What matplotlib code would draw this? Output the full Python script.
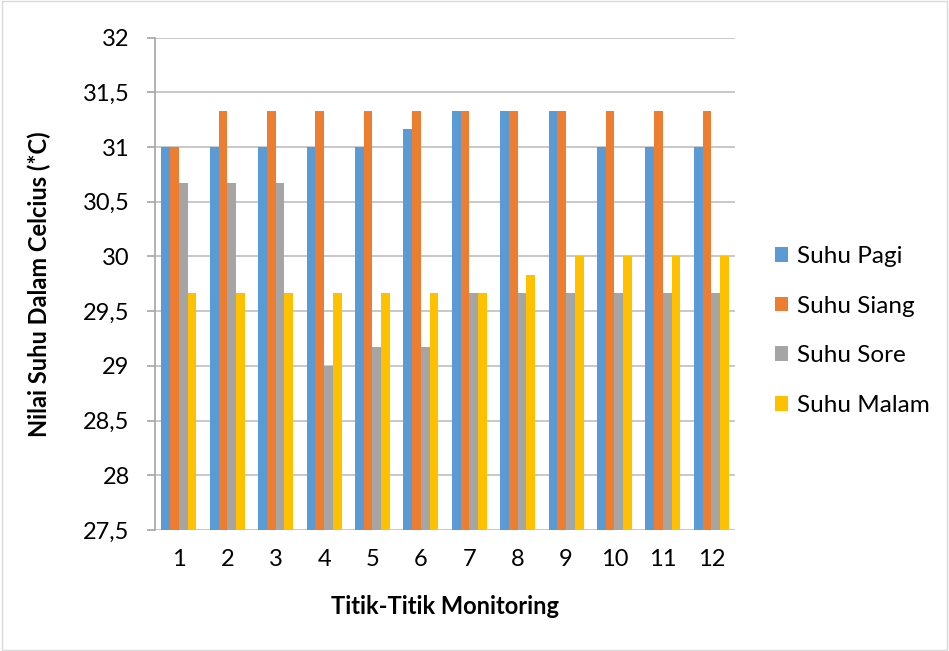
import matplotlib
matplotlib.use("Agg")
import matplotlib.pyplot as plt
import numpy as np
from matplotlib.patches import Rectangle

categories = ["1", "2", "3", "4", "5", "6", "7", "8", "9", "10", "11", "12"]
suhu_pagi = [31, 31, 31, 31, 31, 31.17, 31.33, 31.33, 31.33, 31, 31, 31]
suhu_siang = [31, 31.33, 31.33, 31.33, 31.33, 31.33, 31.33, 31.33, 31.33, 31.33, 31.33, 31.33]
suhu_sore = [30.67, 30.67, 30.67, 29, 29.17, 29.17, 29.67, 29.67, 29.67, 29.67, 29.67, 29.67]
suhu_malam = [29.67, 29.67, 29.67, 29.67, 29.67, 29.67, 29.67, 29.83, 30, 30, 30, 30]
series_names = ["Suhu Pagi", "Suhu Siang", "Suhu Sore", "Suhu Malam"]
yticks = [27.5, 28, 28.5, 29, 29.5, 30, 30.5, 31, 31.5, 32]

colors = ["#5B9BD5", "#ED7D31", "#A5A5A5", "#FFC000"]
plt.rcParams['font.family'] = ['Lato', 'DejaVu Sans']

fig = plt.figure(figsize=(9.49, 6.51), dpi=100)
ax = fig.add_axes([0.163, 0.186, 0.612, 0.756])

x = np.arange(len(categories))
w = 0.18
data = [suhu_pagi, suhu_siang, suhu_sore, suhu_malam]
base = 27.5
for i, (vals, name, c) in enumerate(zip(data, series_names, colors)):
    ax.bar(x + (i - 1.5) * w, np.array(vals) - base, bottom=base, width=w,
           color=c, label=name, zorder=3)

ax.set_xlim(-0.5, len(categories) - 0.5)
ax.set_ylim(27.5, 32)
ax.set_yticks(yticks)
ax.set_yticklabels([f"{t:g}".replace(".", ",") for t in yticks])
ax.set_xticks(x)
ax.set_xticklabels(categories)
ax.yaxis.grid(True, color="#BFBFBF", linewidth=1.2, zorder=0)
ax.set_axisbelow(True)
for s in ["top", "right", "bottom"]:
    ax.spines[s].set_visible(False)
ax.spines["left"].set_color("#A6A6A6")
ax.spines["left"].set_linewidth(1.2)
ax.tick_params(axis="y", length=6, width=1.2, color="#A6A6A6", labelsize=17, pad=12)
ax.tick_params(axis="x", length=0, labelsize=17, pad=14)

ax.set_xlabel("Titik-Titik Monitoring", fontsize=17, fontweight="bold", labelpad=18)
ax.set_ylabel("Nilai Suhu Dalam Celcius (*C)", fontsize=17, fontweight="bold", labelpad=23)

ax.legend(loc="center left", bbox_to_anchor=(0.8166, 0.4916),
          bbox_transform=fig.transFigure, frameon=False, borderpad=0, borderaxespad=0,
          fontsize=17.5, handlelength=0.55, handleheight=0.55, labelspacing=1.18,
          handletextpad=0.35)

fig.patches.append(Rectangle((0.002, 0.002), 0.996, 0.996, transform=fig.transFigure,
                             fill=False, edgecolor="#D9D9D9", linewidth=1))

fig.savefig("out.png", dpi=100)
